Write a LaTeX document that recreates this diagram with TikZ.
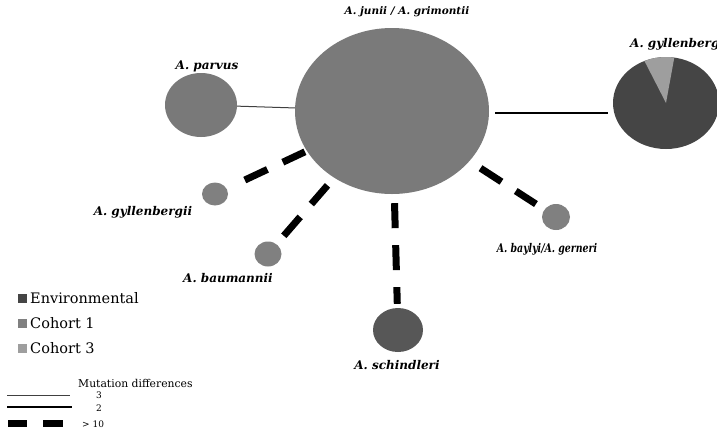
\documentclass[tikz,border=0pt]{standalone}
\usepackage{fontspec}
\setmainfont{DejaVu Serif}
\usetikzlibrary{shapes.geometric}
\definecolor{envc}{gray}{0.27}
\definecolor{coh1}{gray}{0.50}
\definecolor{coh3}{gray}{0.62}
\definecolor{maing}{gray}{0.48}
\begin{document}
\begin{tikzpicture}[x=1pt,y=1pt,
  blob/.style={ellipse, draw=none, inner sep=0pt},
  lab/.style={font=\fontsize{12}{14}\selectfont\bfseries\itshape, inner sep=0pt},
  labmain/.style={font=\fontsize{10.5}{12}\selectfont\bfseries\itshape, inner sep=0pt},
  legtext/.style={font=\fontsize{14.5}{16}\selectfont, anchor=west, inner sep=0pt},
  smalltext/.style={font=\fontsize{10.8}{12}\selectfont, anchor=west, inner sep=0pt},
  numtext/.style={font=\fontsize{9}{10}\selectfont, anchor=west, inner sep=0pt},
  swatch/.style={draw=none, minimum size=9pt, inner sep=0pt},
  thinlink/.style={line width=1pt, draw=black!75},
  midlink/.style={line width=2.8pt, draw=black},
  farlink/.style={line width=7pt, draw=black, dash pattern=on 25pt off 17pt},
]
\useasboundingbox (0,0) rectangle (717,-432);
\fill[white] (0,0) rectangle (717,-432);

% nodes
\node[blob, fill=maing, minimum width=194pt, minimum height=166pt] (main) at (392,-111) {};
\node[blob, fill=coh1!95!black, minimum width=72pt, minimum height=64pt] (parvus) at (201,-105) {};
\node[blob, fill=envc, minimum width=106pt, minimum height=92pt] (gyl) at (666,-103) {};
\fill[coh3] (gyl.center) -- ++(81:53 and 46) arc[start angle=81, end angle=114, x radius=53, y radius=46] -- cycle;
\node[blob, fill=coh1, minimum width=26pt, minimum height=23pt] (sgyl) at (215,-194) {};
\node[blob, fill=coh1, minimum width=27pt, minimum height=25pt] (baum) at (268,-254) {};
\node[blob, fill=envc!90!white, minimum width=50pt, minimum height=44pt] (schind) at (398,-330) {};
\node[blob, fill=coh1, minimum width=28pt, minimum height=26pt] (bayl) at (556,-217) {};

% labels
\node[labmain] (lmain) at (407,-12) {A. junii / A. grimontii};
\node[lab] (lparvus) at (207,-66) {A. parvus};
\node[lab, anchor=west] (lgyl) at (630,-44) {A. gyllenbergii};
\node[lab] (lsgyl) at (143,-212) {A. gyllenbergii};
\node[lab] (lbaum) at (228,-278) {A. baumannii};
\node[lab] (lschind) at (397,-365) {A. schindleri};
\node[lab, xscale=0.78, transform shape] (lbayl) at (547,-249) {A. baylyi/A. gerneri};

% connectors
\draw[thinlink] (parvus) -- (main);
\path (main.east |- 0,-113) ++(6,0) coordinate (m1) (gyl.west |- 0,-113) ++(-5,0) coordinate (g1);
\draw[midlink] (m1) -- (g1);
\draw[farlink, shorten <=20pt, shorten >=2pt] (sgyl) -- (main);
\draw[farlink, shorten <=11pt, shorten >=10pt] (baum) -- (main);
\draw[farlink, shorten <=9pt, shorten >=4pt] (main) -- (schind);
\draw[farlink, shorten <=13pt, shorten >=10pt] (main) -- (bayl);

% legend
\node[swatch, fill=envc] (s1) at (22.5,-298) {};
\node[swatch, fill=coh1] (s2) at (22.5,-323) {};
\node[swatch, fill=coh3] (s3) at (22.5,-348) {};
\node[legtext] (t1) at (30,-298) {Environmental};
\node[legtext] (t2) at (30,-323) {Cohort 1};
\node[legtext] (t3) at (30,-348) {Cohort 3};
\node[smalltext] (mdiff) at (78,-383) {Mutation differences};
\coordinate (la1) at (7,-395); \coordinate (la2) at (70,-395);
\coordinate (lb1) at (7,-407); \coordinate (lb2) at (72,-407);
\coordinate (lc1) at (8,-423); \coordinate (lc2) at (27,-423);
\coordinate (lc3) at (43,-423); \coordinate (lc4) at (63,-423);
\draw[thinlink] (la1) -- (la2);
\draw[midlink] (lb1) -- (lb2);
\draw[line width=7pt] (lc1) -- (lc2) (lc3) -- (lc4);
\node[numtext] (n3) at (96,-395) {3};
\node[numtext] (n2) at (96,-408) {2};
\node[numtext] (n10) at (82,-424) {> 10};
\end{tikzpicture}
\end{document}
